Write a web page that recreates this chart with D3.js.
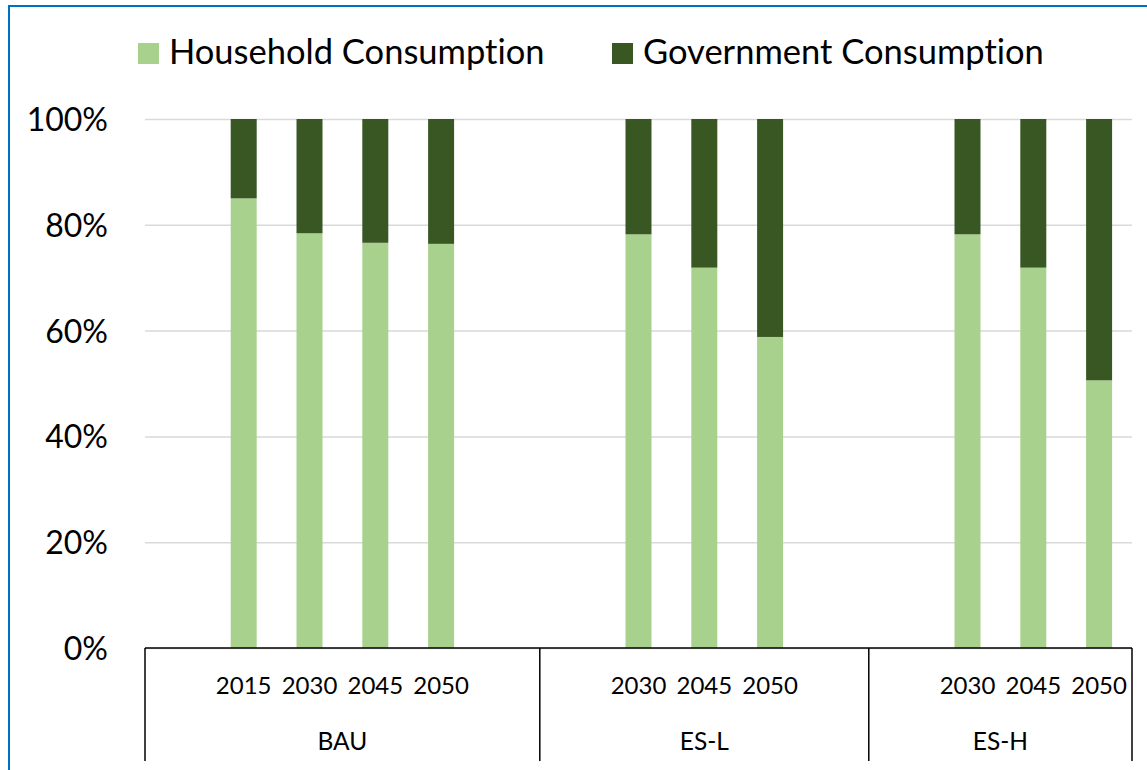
<!DOCTYPE html>
<html>
<head>
<meta charset="utf-8">
<script src="https://cdn.jsdelivr.net/npm/d3@7/dist/d3.min.js"></script>
<style>
  html, body { margin: 0; padding: 0; background: #fff; }
  svg { display: block; }
  text { font-family: Lato, "Open Sans", sans-serif; fill: #000; font-variant-ligatures: none; }
</style>
</head>
<body>
<svg id="chart" width="1147" height="770"></svg>
<script>
// Scenario groups and the year columns under each (blank slots are spacer columns)
const scenarios = ["BAU", "ES-L", "ES-H"];
const years = [
  ["", "2015", "2030", "2045", "2050", ""],
  ["", "2030", "2045", "2050", ""],
  ["", "2030", "2045", "2050"]
];
// Shares of final consumption, in percent
const household = [
  [null, 85.0, 78.4, 76.6, 76.4, null],
  [null, 78.2, 71.9, 58.8, null],
  [null, 78.2, 71.9, 50.6]
];
const government = [
  [null, 15.0, 21.6, 23.4, 23.6, null],
  [null, 21.8, 28.1, 41.2, null],
  [null, 21.8, 28.1, 49.4]
];
const seriesNames = ["Household Consumption", "Government Consumption"];
const seriesColors = ["#A9D18E", "#385723"];
const yTicks = [0, 20, 40, 60, 80, 100];

const svg = d3.select("#chart");
const plot = { left: 145, right: 1132, top: 119, bottom: 648 };

// Flatten the slots into one band domain
const slots = [];
scenarios.forEach((s, g) => {
  years[g].forEach((yr, i) => {
    slots.push({ id: g + "-" + i, group: g, scenario: s, year: yr,
                 values: [household[g][i], government[g][i]] });
  });
});

const pad = 0.605;
const x = d3.scaleBand()
  .domain(slots.map(d => d.id))
  .range([plot.left, plot.right])
  .paddingInner(pad)
  .paddingOuter(pad / 2);

const y = d3.scaleLinear().domain([0, 100]).range([plot.bottom, plot.top]);

// Frame
svg.append("rect")
  .attr("x", 9).attr("y", 6)
  .attr("width", 1400).attr("height", 1200)
  .attr("fill", "none")
  .attr("stroke", "#0070C0")
  .attr("stroke-width", 2);

// Gridlines
const grid = svg.append("g")
  .attr("transform", `translate(${plot.left},0)`)
  .call(d3.axisLeft(y).tickValues(yTicks).tickSize(-(plot.right - plot.left)).tickFormat(""));
grid.select(".domain").remove();
grid.selectAll(".tick line").attr("stroke", "#d9d9d9").attr("stroke-width", 1.5);

// Y tick labels
const yAxis = svg.append("g")
  .attr("transform", `translate(${plot.left},0)`)
  .call(d3.axisLeft(y).tickValues(yTicks).tickSize(0).tickPadding(37).tickFormat(d => d + "%"));
yAxis.select(".domain").remove();
yAxis.selectAll(".tick text")
  .attr("font-family", "Lato, sans-serif")
  .attr("font-size", 32)
  .attr("fill", "#000")
  .attr("dy", "0.36em");

// Stacked bars
const stackRows = slots.filter(d => d.values[0] != null);
seriesNames.forEach((name, k) => {
  svg.append("g")
    .selectAll("rect")
    .data(stackRows)
    .join("rect")
    .attr("x", d => x(d.id))
    .attr("width", x.bandwidth())
    .attr("y", d => y(d3.sum(d.values.slice(0, k + 1))))
    .attr("height", d => y(d3.sum(d.values.slice(0, k))) - y(d3.sum(d.values.slice(0, k + 1))))
    .attr("fill", seriesColors[k]);
});

// Category axis: year row
const xAxis = svg.append("g")
  .attr("transform", `translate(0,${plot.bottom})`)
  .call(d3.axisBottom(x).tickSize(0).tickPadding(0)
    .tickFormat(id => slots.find(s => s.id === id).year));
xAxis.select(".domain").remove();
xAxis.selectAll(".tick text")
  .attr("font-family", "Lato, sans-serif")
  .attr("font-size", 24)
  .attr("fill", "#000")
  .attr("y", 46)
  .attr("dy", 0);

// Axis line
svg.append("line")
  .attr("x1", plot.left).attr("x2", plot.right)
  .attr("y1", plot.bottom).attr("y2", plot.bottom)
  .attr("stroke", "#000").attr("stroke-width", 1.5);

// Group boundaries and scenario labels
const slotStart = id => x(id) - (x.step() - x.bandwidth()) / 2;
const bounds = scenarios.map((s, g) => {
  const ids = slots.filter(d => d.group === g).map(d => d.id);
  return { s, x0: slotStart(ids[0]), x1: slotStart(ids[ids.length - 1]) + x.step() };
});
const edges = [bounds[0].x0].concat(bounds.map(b => b.x1));
svg.append("g").selectAll("line")
  .data(edges)
  .join("line")
  .attr("x1", d => d).attr("x2", d => d)
  .attr("y1", plot.bottom).attr("y2", 761)
  .attr("stroke", "#000").attr("stroke-width", 1.5);

svg.append("g").selectAll("text")
  .data(bounds)
  .join("text")
  .attr("x", d => (d.x0 + d.x1) / 2)
  .attr("y", 750)
  .attr("text-anchor", "middle")
  .attr("font-size", 24.5)
  .text(d => d.s);

// Legend
const legendX = [138, 612];
const legend = svg.append("g").selectAll("g")
  .data(seriesNames)
  .join("g")
  .attr("transform", (d, i) => `translate(${legendX[i]},43)`);
legend.append("rect")
  .attr("width", 21).attr("height", 21)
  .attr("fill", (d, i) => seriesColors[i]);
legend.append("text")
  .attr("x", 31).attr("y", 21)
  .attr("font-size", 34.5)
  .text(d => d);
</script>
</body>
</html>
